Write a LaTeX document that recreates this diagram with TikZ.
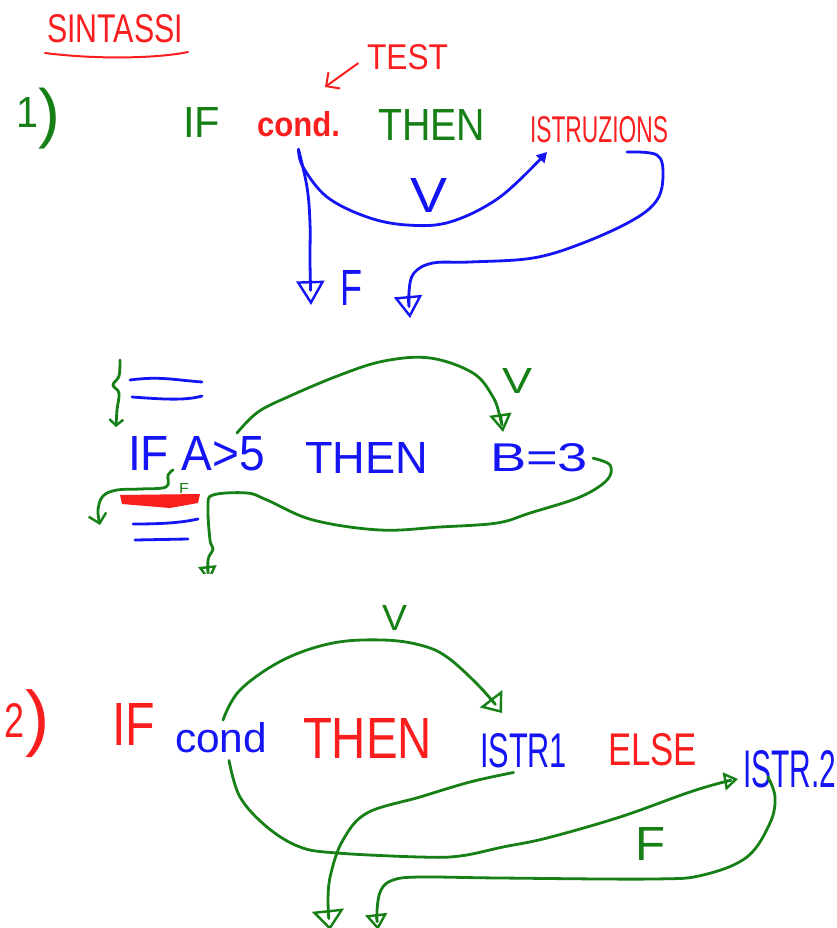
\documentclass[tikz,border=0pt]{standalone}
\usepackage{fontspec}
\setmainfont{Liberation Sans}
\usetikzlibrary{arrows.meta,calc}
\definecolor{mgreen}{RGB}{22,128,22}
\definecolor{mblue}{RGB}{20,20,245}
\definecolor{mred}{RGB}{250,30,30}
\newcommand\fitt[3]{\resizebox{#1pt}{#2pt}{#3}}
\newcommand\fittt[2]{\resizebox*{!}{#1pt}{#2}}
\begin{document}
\begin{tikzpicture}[x=1pt,y=-1pt,line cap=round,line join=round,
  tx/.style={inner sep=0pt,outer sep=0pt,anchor=north west},
  pen/.style={line width=2.8pt},
  tri/.style 2 args={-{Triangle[open,length=#1pt,width=#2pt,line width=2.4pt]}},
  barb/.style 2 args={-{Straight Barb[length=#1pt,width=#2pt,line width=2.4pt]}}]
\useasboundingbox (0,0) rectangle (836,928);
\fill[white] (0,0) rectangle (836,928);

% ---------- title ----------
\node[tx,text=mred] (title) at (47,15) {\fitt{136}{28}{SINTASSI}};
\draw[mred,line width=2pt] (45,53) .. controls (100,60) and (160,58) .. (188,52);

% ---------- part 1 ----------
\node[tx,text=mgreen] (one) at (16,97) {\fitt{22}{30}{1}};
\node[tx,text=mgreen] (onep) at (38,88) {\fittt{61}{)}};
\node[tx,text=mred] (TEST) at (367,45) {\fitt{81}{25}{TEST}};
\coordinate (testtip) at (325,87);
\draw[mred,line width=2pt,-{Straight Barb[length=10pt,width=20pt,line width=2pt]}] ([xshift=-9pt,yshift=7pt]TEST.south west) -- (testtip);

\node[tx,text=mgreen] (if1) at (183,107) {\fitt{37}{30}{IF}};
\node[tx,text=mred] (cond1) at (257,112) {\fitt{83}{25}{\bfseries cond.}};
\node[tx,text=mgreen] (then1) at (378,109) {\fitt{107}{31}{THEN}};
\node[tx,text=mred] (istr) at (530,117) {\fitt{138}{26}{ISTRUZIONS}};
\node[tx,text=mblue] (f1) at (340,270) {\fitt{22}{35}{F}};
\node[tx,text=mblue] (v1) at (410,178) {\fitt{37}{34}{V}};

\coordinate (c1s) at ([yshift=-12pt]cond1.south);
\coordinate (istrin) at (547,152);
\coordinate (istrout) at (627,152);
\coordinate (fend1) at (311,305);
\coordinate (fend2) at (410,318);

\draw[mblue,pen,-{Triangle[length=10pt,width=11pt]}] plot[smooth,tension=0.6] coordinates
  {(c1s) (303,167) (327,197) (367,217) (407,225) (450,222) (500,197) (istrin)};
\draw[mblue,pen,tri={24}{28}] plot[smooth,tension=0.6] coordinates
  {(c1s) (307,187) (310,223) (310,262) (fend1)};
\draw[mblue,pen,tri={22}{28}] plot[smooth,tension=0.6] coordinates
  {(istrout) (657,155) (663,175) (657,200) (633,220) (583,243) (533,258) (470,262)
   (433,263) (414,273) (409,292) (fend2)};

% ---------- example ----------
\draw[mblue,pen] (130,380) .. controls (160,376) and (175,380) .. (202,382);
\draw[mblue,pen] (132,397) .. controls (160,399) and (185,401) .. (202,396);
\coordinate (brtop) at (120,360);
\coordinate (brend) at (116,427);
\draw[mgreen,pen,barb={6}{14}] plot[smooth,tension=0.6] coordinates
  {(brtop) (119,376) (113,385) (119,393) (117,410) (brend)};

\node[tx,text=mblue] (ifa) at (128,436) {\fitt{137}{34}{IF A>5}};
\node[tx,text=mblue] (then2) at (305,442) {\fitt{123}{31}{THEN}};
\node[tx,text=mblue] (b3) at (490,443) {\fitt{98}{28}{B=3}};
\node[tx,text=mgreen] (v2) at (502,368) {\fitt{30}{25}{V}};
\node[tx,text=mgreen] (f2) at (179,483) {\fitt{10}{10}{F}};

\coordinate (ifaout) at ([xshift=-28pt,yshift=3pt]ifa.north east);
\coordinate (b3in) at ([xshift=13pt,yshift=11pt]b3.north west);
\draw[mgreen,pen,tri={18}{22}] plot[smooth,tension=0.6] coordinates
  {(ifaout) (258,412) (290,396) (340,375) (384,361) (430,358) (473,373) (493,397) (500,417) (b3in)};

\coordinate (b3out) at ([xshift=5pt,yshift=-1pt]b3.east);
\coordinate (down1) at (209,582);
\begin{scope}
\clip (0,0) rectangle (836,573);
\draw[mgreen,pen,tri={16}{18}] plot[smooth,tension=0.6] coordinates
  {(b3out) (610,465) (607,480) (580,497) (530,513) (497,523) (440,527) (380,530)
   (313,520) (267,500) (247,493) (213,495) (208,507) (210,540) (213,549) (208,560) (down1)};
\end{scope}

\coordinate (fout) at (173,470);
\coordinate (leftend) at (100,525);
\draw[mgreen,pen,barb={9}{18}] plot[smooth,tension=0.6] coordinates
  {(fout) (168,475) (166,487) (140,489) (117,490) (103,496) (98,510) (leftend)};

\fill[mred] (120,495) -- (200,494) -- (198,503) -- (170,508) -- (122,504) -- cycle;
\draw[mblue,pen] (133,524) .. controls (160,524) and (180,523) .. (198,519);
\draw[mblue,pen] (135,540) -- (188,539);

% ---------- part 2 ----------
\node[tx,text=mred] (two) at (5,703) {\fitt{20}{34}{2}};
\node[tx,text=mred] (twop) at (25,690) {\fittt{68}{)}};
\node[tx,text=mred] (if2) at (112,703) {\fitt{43}{42}{IF}};
\node[tx,text=mblue] (cond2) at (175,722) {\fitt{92}{30}{cond}};
\node[tx,text=mred] (then3) at (303,718) {\fitt{129}{40}{THEN}};
\node[tx,text=mblue] (istr1) at (480,733) {\fitt{87}{34}{ISTR1}};
\node[tx,text=mred] (else) at (608,733) {\fitt{89}{32}{ELSE}};
\node[tx,text=mblue] (istr2) at (743,750) {\fitt{93}{37}{ISTR.2}};
\node[tx,text=mgreen] (v3) at (382,605) {\fitt{25}{25}{V}};
\node[tx,text=mgreen] (f3) at (635,827) {\fitt{30}{33}{F}};

\coordinate (c2top) at ([xshift=48pt,yshift=2pt]cond2.north west);
\coordinate (c2bot) at ([xshift=8pt,yshift=-8pt]cond2.south);
\coordinate (i1in) at ([xshift=22pt,yshift=20pt]istr1.north west);
\coordinate (i1out) at ([xshift=-10pt,yshift=-5pt]istr1.south);
\coordinate (i2in) at (738,779);
\coordinate (i2out) at (768,777);
\coordinate (down2) at (330,930);
\coordinate (down3) at (378,930);

\draw[mgreen,pen,tri={18}{28}] plot[smooth,tension=0.6] coordinates
  {(c2top) (240,690) (283,660) (333,643) (383,640) (420,645) (447,657) (480,687) (i1in)};
\draw[mgreen,pen,tri={14}{18}] plot[smooth,tension=0.6] coordinates
  {(c2bot) (240,797) (267,827) (300,847) (337,853) (420,857) (460,856) (503,847)
   (547,838) (620,817) (687,793) (720,783) (i2in)};
\draw[mgreen,pen,tri={20}{32}] plot[smooth,tension=0.6] coordinates
  {(i1out) (470,782) (420,797) (367,813) (343,840) (331,873) (328,900) (down2)};
\draw[mgreen,pen,tri={16}{22}] plot[smooth,tension=0.6] coordinates
  {(i2out) (775,797) (770,823) (747,857) (703,875) (653,879) (500,878) (420,877)
   (393,880) (381,890) (377,910) (down3)};
\end{tikzpicture}
\end{document}
